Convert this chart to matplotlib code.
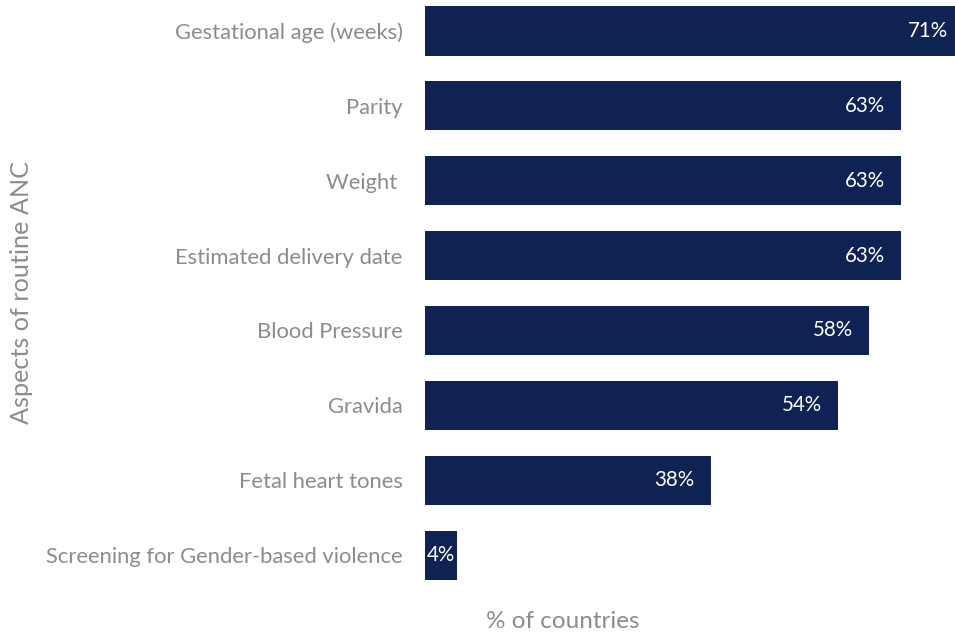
import matplotlib
matplotlib.use("Agg")
import matplotlib.pyplot as plt
from matplotlib.transforms import offset_copy

categories = [
    "Gestational age (weeks)",
    "Parity",
    "Weight ",
    "Estimated delivery date",
    "Blood Pressure",
    "Gravida",
    "Fetal heart tones",
    "Screening for Gender-based violence",
]
# share of countries (n of 24), in %
values = [70.8, 62.5, 62.5, 62.5, 58.3, 54.2, 37.5, 4.2]
labels = ["71%", "63%", "63%", "63%", "58%", "54%", "38%", "4%"]

BAR = "#0e2354"
GREY = "#8c8c8c"

plt.rcParams.update({
    "font.family": ["Lato", "DejaVu Sans"],
})

fig = plt.figure(figsize=(9.55, 6.34), dpi=100)
ax = fig.add_axes([425 / 955, (634 - 592.5) / 634, 530 / 955, 592.5 / 634])

ypos = list(range(len(categories)))
ax.barh(ypos, values, height=0.655, color=BAR, clip_on=True)

ax.set_xlim(0, 530 / 7.616)
ax.set_ylim(7.5, -31 / 74.9)

for y, v, lab in zip(ypos, values, labels):
    if v > 10:
        tr = offset_copy(ax.transData, fig=fig, x=-16, y=0, units="dots")
        ax.text(v, y, lab, transform=tr, ha="right", va="center",
                color="white", fontsize=14.8, clip_on=False)
    else:
        tr = offset_copy(ax.transData, fig=fig, x=2, y=0, units="dots")
        ax.text(0, y, lab, transform=tr, ha="left", va="center",
                color="white", fontsize=14.8, clip_on=False)

ax.set_yticks(ypos)
ax.set_yticklabels(categories, fontsize=15.8, color=GREY)
ax.tick_params(axis="y", length=0, pad=16)
ax.set_xticks([])
for s in ax.spines.values():
    s.set_visible(False)

fig.text(563 / 955, 1 - 621 / 634, "% of countries", ha="center", va="center",
         fontsize=17.5, color=GREY)
fig.text(22 / 955, 1 - 292 / 634, "Aspects of routine ANC", ha="center", va="center",
         rotation=90, fontsize=18.2, color=GREY)

fig.savefig("out.png", dpi=100, facecolor="white")
